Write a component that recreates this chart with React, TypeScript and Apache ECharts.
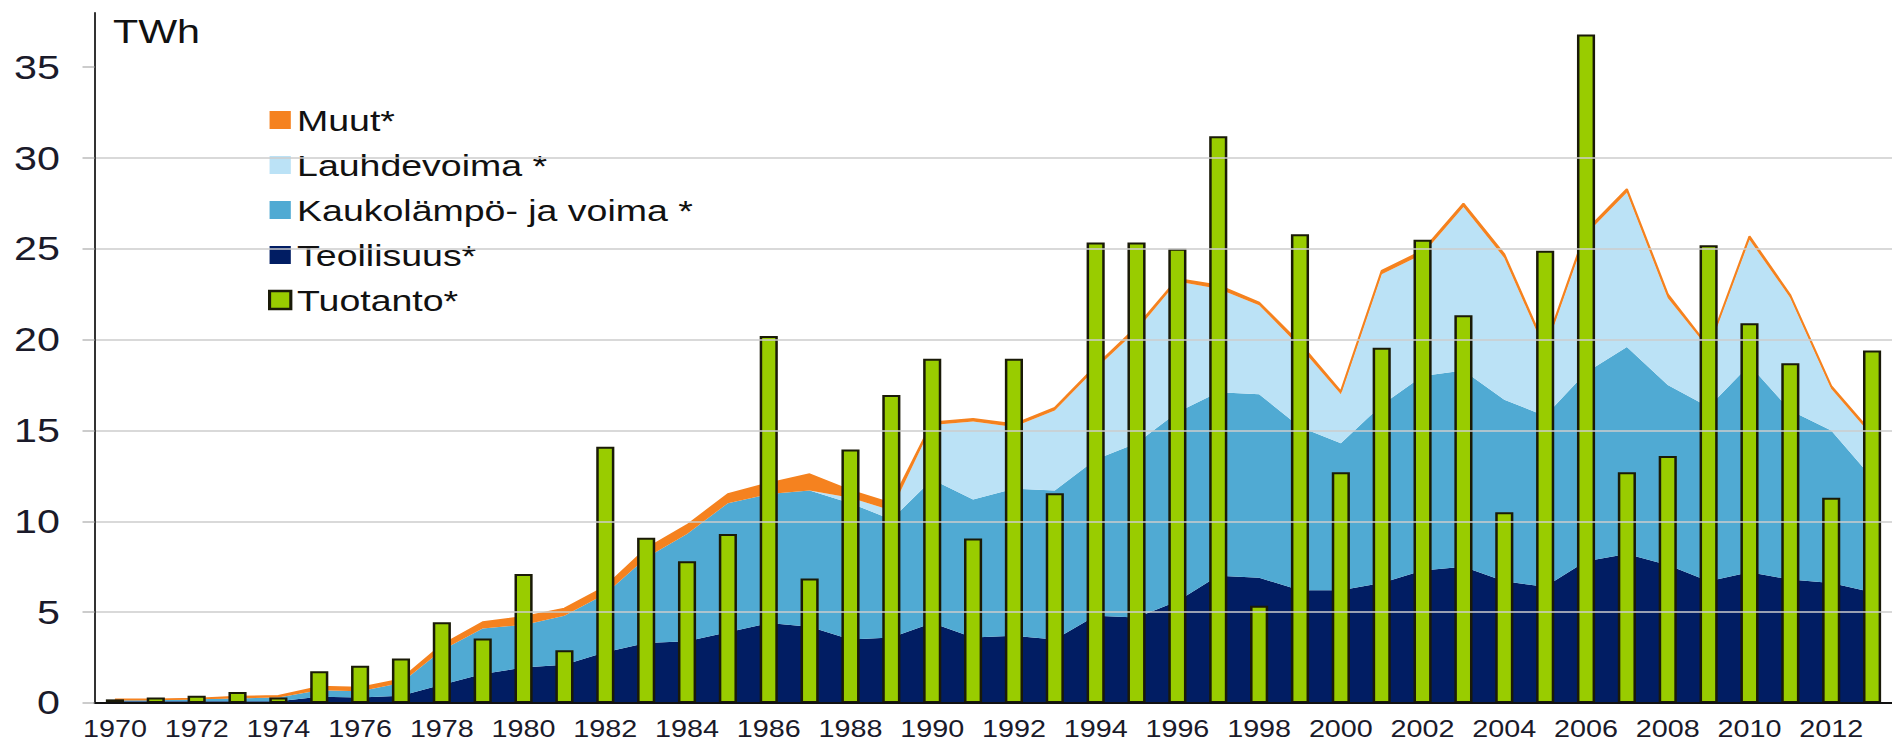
import React, { useEffect, useRef } from "react";
import * as echarts from "echarts";

const years = [
  "1970","1971","1972","1973","1974","1975","1976","1977","1978","1979",
  "1980","1981","1982","1983","1984","1985","1986","1987","1988","1989",
  "1990","1991","1992","1993","1994","1995","1996","1997","1998","1999",
  "2000","2001","2002","2003","2004","2005","2006","2007","2008","2009",
  "2010","2011","2012","2013",
];

// TWh
const teollisuus = [
  0.1, 0.1, 0.1, 0.1, 0.1, 0.35, 0.3, 0.4, 1.0, 1.6,
  1.95, 2.1, 2.8, 3.3, 3.4, 3.9, 4.4, 4.2, 3.5, 3.6,
  4.4, 3.6, 3.7, 3.5, 4.8, 4.7, 5.6, 7.0, 6.9, 6.2,
  6.2, 6.6, 7.3, 7.5, 6.7, 6.4, 7.8, 8.2, 7.6, 6.7,
  7.2, 6.8, 6.6, 6.1,
];
const kaukolampo = [
  0.05, 0.05, 0.1, 0.15, 0.2, 0.35, 0.35, 0.7, 1.9, 2.5,
  2.35, 2.7, 3.2, 4.7, 5.9, 7.1, 7.1, 7.5, 7.5, 6.5,
  7.9, 7.6, 8.1, 8.2, 8.6, 9.6, 10.4, 10.1, 10.1, 9.0,
  8.1, 9.8, 10.7, 10.8, 10.0, 9.4, 10.4, 11.4, 9.9, 9.6,
  11.4, 9.3, 8.4, 6.3,
];
const lauhdevoima = [
  0, 0, 0, 0, 0, 0, 0, 0, 0, 0,
  0, 0, 0, 0, 0, 0, 0, 0, 0.3, 0.5,
  3.0, 4.3, 3.4, 4.4, 5.0, 6.2, 7.2, 5.7, 4.9, 4.4,
  2.7, 7.2, 6.7, 9.0, 7.8, 3.6, 7.6, 8.5, 4.8, 3.2,
  6.9, 6.2, 2.3, 2.3,
];
const muut = [
  0.05, 0.05, 0.05, 0.1, 0.1, 0.2, 0.2, 0.2, 0.3, 0.35,
  0.45, 0.4, 0.4, 0.5, 0.5, 0.5, 0.6, 0.9, 0.4, 0.4,
  0.15, 0.15, 0.15, 0.15, 0.15, 0.2, 0.15, 0.2, 0.15, 0.2,
  0.15, 0.2, 0.2, 0.2, 0.2, 0.2, 0.2, 0.2, 0.2, 0.1,
  0.2, 0.15, 0.15, 0.15,
];
const tuotanto = [
  0.2, 0.3, 0.4, 0.6, 0.3, 1.75, 2.05, 2.45, 4.45, 3.55,
  7.1, 2.9, 14.1, 9.1, 7.8, 9.3, 20.2, 6.85, 13.95, 16.95,
  18.95, 9.05, 18.95, 11.55, 25.35, 25.35, 25.0, 31.2, 5.35, 25.8,
  12.7, 19.55, 25.5, 21.35, 10.5, 24.9, 36.8, 12.7, 13.6, 25.2,
  20.9, 18.7, 11.3, 19.4,
];
const yTicks = [0, 5, 10, 15, 20, 25, 30, 35];

const NAMES = {
  muut: "Muut*",
  lauhde: "Lauhdevoima *",
  kauko: "Kaukolämpö- ja voima *",
  teoll: "Teollisuus*",
  tuot: "Tuotanto*",
};

const C = {
  navy: "#011D63",
  mid: "#50AAD3",
  light: "#BBE2F6",
  orange: "#F5821F",
  green: "#99CC00",
  border: "#1A1A08",
};

const SX = 1.25;
const W = 1892 / SX;
const H = 742;
const FONT = "'Liberation Sans', Arial, Helvetica, sans-serif";

export default function App() {
  const ref = useRef<HTMLDivElement>(null);

  useEffect(() => {
    if (!ref.current) return;
    const chart = echarts.init(ref.current, undefined, { renderer: "svg" });

    const areaSeries = (name: string, data: number[], color: string, line?: boolean) => ({
      name,
      type: "line",
      stack: "total",
      data,
      color,
      symbol: "none",
      showSymbol: false,
      smooth: false,
      lineStyle: line ? { width: 1.6, color } : { width: 0, opacity: 0 },
      areaStyle: { color, opacity: 1 },
      itemStyle: { color },
      z: 2,
    });

    chart.setOption({
      animation: false,
      textStyle: { fontFamily: FONT },
      grid: {
        left: 94.5 / SX,
        top: 12.7,
        width: (44 * 40.97) / SX,
        height: 690.3,
        containLabel: false,
      },
      legend: {
        orient: "vertical",
        left: 172,
        top: 85,
        padding: [20, 31, 15, 42.4],
        backgroundColor: "#ffffff",
        itemWidth: 17,
        itemHeight: 18,
        itemGap: 15,
        selectedMode: false,
        textStyle: {
          fontSize: 30,
          lineHeight: 30,
          color: "#111111",
          fontFamily: FONT,
        },
        data: [
          { name: NAMES.muut, icon: "rect", itemStyle: { color: C.orange, borderWidth: 0 } },
          { name: NAMES.lauhde, icon: "rect", itemStyle: { color: C.light, borderWidth: 0 } },
          { name: NAMES.kauko, icon: "rect", itemStyle: { color: C.mid, borderWidth: 0 } },
          { name: NAMES.teoll, icon: "rect", itemStyle: { color: C.navy, borderWidth: 0 } },
          {
            name: NAMES.tuot,
            icon: "rect",
            itemStyle: { color: C.green, borderColor: C.border, borderWidth: 2.5 },
          },
        ],
      },
      graphic: [
        {
          type: "text",
          left: 90.4,
          top: 15,
          z: 100,
          style: {
            text: "TWh",
            fontSize: 33,
            lineHeight: 33,
            fontFamily: FONT,
            fill: "#111111",
          },
        },
      ],
      xAxis: {
        type: "category",
        data: years,
        boundaryGap: true,
        axisLine: { show: true, lineStyle: { color: "#111111", width: 2 } },
        axisTick: { show: false },
        axisLabel: {
          interval: 1,
          fontSize: 23,
          lineHeight: 23,
          margin: 15,
          color: "#1a1a2a",
          fontFamily: FONT,
        },
        splitLine: { show: false },
        z: 10,
      },
      yAxis: {
        type: "value",
        min: 0,
        max: 38,
        interval: 5,
        axisLine: { show: true, lineStyle: { color: "#333333", width: 1.6 } },
        axisTick: {
          show: true,
          length: 9.6,
          lineStyle: { color: "#bbbbbb", width: 1.5 },
          customValues: yTicks,
        },
        axisLabel: {
          fontSize: 33,
          margin: 27.6,
          color: "#1a1a2a",
          fontFamily: FONT,
          customValues: yTicks,
          formatter: (v: number) => (yTicks.indexOf(v) >= 0 ? String(v) : ""),
        },
        splitLine: {
          show: true,
          showMaxLine: false,
          lineStyle: { color: "#cdcdcd", width: 1.6 },
        },
        z: 10,
      },
      series: [
        areaSeries(NAMES.teoll, teollisuus, C.navy),
        areaSeries(NAMES.kauko, kaukolampo, C.mid),
        areaSeries(NAMES.lauhde, lauhdevoima, C.light),
        areaSeries(NAMES.muut, muut, C.orange, true),
        {
          name: NAMES.tuot,
          type: "bar",
          data: tuotanto,
          barWidth: 14.5,
          itemStyle: { color: C.green, borderColor: C.border, borderWidth: 2 },
          z: 5,
        },
      ],
    });

    return () => {
      chart.dispose();
    };
  }, []);

  return (
    <div
      ref={ref}
      style={{
        position: "absolute",
        left: 0,
        top: 0,
        width: `${W}px`,
        height: `${H}px`,
        transform: `scaleX(${SX})`,
        transformOrigin: "0 0",
        background: "#ffffff",
      }}
    />
  );
}
